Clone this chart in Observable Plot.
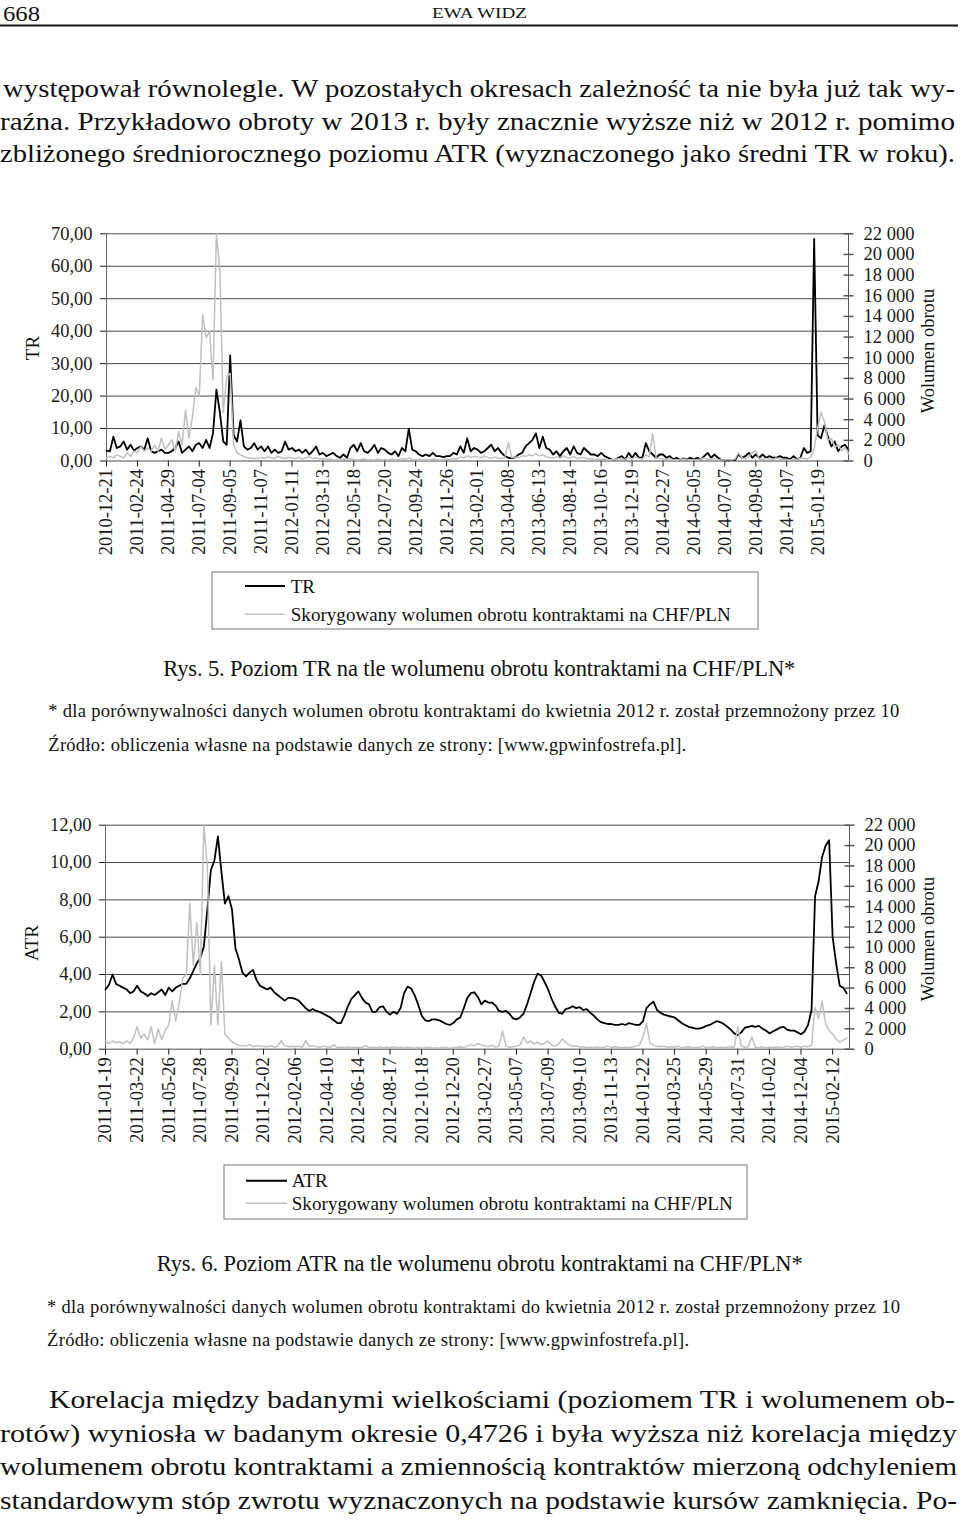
<!DOCTYPE html>
<html><head><meta charset="utf-8">
<script src="https://cdn.jsdelivr.net/npm/d3@7"></script>
<script src="https://cdn.jsdelivr.net/npm/@observablehq/plot@0.6"></script>
<style>
html,body{margin:0;padding:0;background:#fff;}
#page{position:relative;width:960px;height:1520px;overflow:hidden;background:#fff;}
#page > svg{position:absolute;left:0;}
#txt{top:0;z-index:5;pointer-events:none;}
#txt text{font-family:"Liberation Serif","Times New Roman",serif;}
</style></head><body>
<div id="page">
<svg id="txt" width="960" height="1520" fill="#111">
  <text x="3" y="20.5" font-size="22" textLength="37" lengthAdjust="spacingAndGlyphs">668</text>
  <text x="432" y="17.5" font-size="15.5" textLength="95" lengthAdjust="spacingAndGlyphs">EWA WIDZ</text>
  <line x1="0" y1="25.5" x2="958" y2="25.5" stroke="#111" stroke-width="2"/>
  <g font-size="26">
    <text x="3" y="97" textLength="952" lengthAdjust="spacingAndGlyphs">występował równolegle. W pozostałych okresach zależność ta nie była już tak wy-</text>
    <text x="0" y="130" textLength="955" lengthAdjust="spacingAndGlyphs">raźna. Przykładowo obroty w 2013 r. były znacznie wyższe niż w 2012 r. pomimo</text>
    <text x="0" y="162" textLength="955" lengthAdjust="spacingAndGlyphs">zbliżonego średniorocznego poziomu ATR (wyznaczonego jako średni TR w roku).</text>
  </g>
  <text transform="translate(32,348) rotate(-90)" text-anchor="middle" dominant-baseline="central" font-size="19">TR</text>
  <text transform="translate(928,351) rotate(-90)" text-anchor="middle" dominant-baseline="central" font-size="18.5">Wolumen obrotu</text>
  <rect x="212" y="572" width="546" height="57" fill="none" stroke="#777"/>
  <line x1="245" y1="586" x2="285" y2="586" stroke="#000" stroke-width="2"/>
  <text x="290.7" y="592.5" font-size="19">TR</text>
  <line x1="245" y1="614.3" x2="285" y2="614.3" stroke="#c0c0c0" stroke-width="1.5"/>
  <text x="290.7" y="620.7" font-size="19" textLength="440">Skorygowany wolumen obrotu kontraktami na CHF/PLN</text>
  <text x="163.3" y="675.7" font-size="22.5" textLength="632">Rys. 5. Poziom TR na tle wolumenu obrotu kontraktami na CHF/PLN*</text>
  <text x="48.3" y="716.7" font-size="18.5" textLength="851">* dla porównywalności danych wolumen obrotu kontraktami do kwietnia 2012 r. został przemnożony przez 10</text>
  <text x="48.3" y="750.7" font-size="18.5" textLength="638">Źródło: obliczenia własne na podstawie danych ze strony: [www.gpwinfostrefa.pl].</text>

  <text transform="translate(31.5,943) rotate(-90)" text-anchor="middle" dominant-baseline="central" font-size="19">ATR</text>
  <text transform="translate(928,939) rotate(-90)" text-anchor="middle" dominant-baseline="central" font-size="18.5">Wolumen obrotu</text>
  <rect x="224" y="1165" width="523" height="54" fill="none" stroke="#777"/>
  <line x1="246" y1="1180.7" x2="287" y2="1180.7" stroke="#000" stroke-width="2"/>
  <text x="291.7" y="1187" font-size="19">ATR</text>
  <line x1="246" y1="1203.3" x2="287" y2="1203.3" stroke="#c0c0c0" stroke-width="1.5"/>
  <text x="291.7" y="1210" font-size="19" textLength="441">Skorygowany wolumen obrotu kontraktami na CHF/PLN</text>
  <text x="156.7" y="1271" font-size="22.5" textLength="646">Rys. 6. Poziom ATR na tle wolumenu obrotu kontraktami na CHF/PLN*</text>
  <text x="47" y="1312.5" font-size="18.5" textLength="853">* dla porównywalności danych wolumen obrotu kontraktami do kwietnia 2012 r. został przemnożony przez 10</text>
  <text x="47" y="1346" font-size="18.5" textLength="642">Źródło: obliczenia własne na podstawie danych ze strony: [www.gpwinfostrefa.pl].</text>

  <g font-size="26">
    <text x="49" y="1408" textLength="906" lengthAdjust="spacingAndGlyphs">Korelacja między badanymi wielkościami (poziomem TR i wolumenem ob-</text>
    <text x="0" y="1441.5" textLength="957" lengthAdjust="spacingAndGlyphs">rotów) wyniosła w badanym okresie 0,4726 i była wyższa niż korelacja między</text>
    <text x="0" y="1475" textLength="957" lengthAdjust="spacingAndGlyphs">wolumenem obrotu kontraktami a zmiennością kontraktów mierzoną odchyleniem</text>
    <text x="0" y="1508.5" textLength="957" lengthAdjust="spacingAndGlyphs">standardowym stóp zwrotu wyznaczonych na podstawie kursów zamknięcia. Po-</text>
  </g>
</svg>
</div>
<script>
// sampling: one value every STEP trading days; category labels every PER trading days
const STEP = 5, PER = 45;

const labels1 = ["2010-12-21","2011-02-24","2011-04-29","2011-07-04","2011-09-05","2011-11-07","2012-01-11","2012-03-13","2012-05-18","2012-07-20","2012-09-24","2012-11-26","2013-02-01","2013-04-08","2013-06-13","2013-08-14","2013-10-16","2013-12-19","2014-02-27","2014-05-05","2014-07-07","2014-09-08","2014-11-07","2015-01-19"];
const labels2 = ["2011-01-19","2011-03-22","2011-05-26","2011-07-28","2011-09-29","2011-12-02","2012-02-06","2012-04-10","2012-06-14","2012-08-17","2012-10-18","2012-12-20","2013-02-27","2013-05-07","2013-07-09","2013-09-10","2013-11-13","2014-01-22","2014-03-25","2014-05-29","2014-07-31","2014-10-02","2014-12-04","2015-02-12"];

const trTicks = [0,10,20,30,40,50,60,70];
const atrTicks = [0,2,4,6,8,10,12];
const volTicks = [0,2000,4000,6000,8000,10000,12000,14000,16000,18000,20000,22000];

// Rys. 5 — TR
const trValues = [
 3.2,3.0,7.5,4.0,4.5,6.0,3.5,5.0,3.2,
 4.0,4.5,3.5,7.0,3.0,2.5,3.0,3.5,2.5,
 2.5,3.0,4.0,6.0,2.5,3.5,4.5,3.0,5.0,
 5.5,4.0,6.5,4.0,8.5,22.0,15.0,6.0,5.0,
 32.5,8.0,6.0,12.5,4.5,3.5,4.0,5.5,3.5,
 4.5,3.0,4.5,2.5,3.5,2.5,3.0,6.0,3.5,
 4.0,3.0,3.5,2.5,3.5,2.0,3.0,4.5,2.0,
 2.5,1.5,2.0,2.5,1.5,1.0,2.0,1.0,4.0,
 5.0,3.0,5.5,3.0,2.5,3.5,5.0,2.5,4.0,
 3.5,2.5,2.0,3.0,1.5,4.0,3.0,10.0,3.5,
 3.0,2.0,1.5,2.0,1.5,2.5,1.5,1.5,1.2,
 1.5,1.5,2.5,2.0,4.5,2.5,7.0,3.0,4.0,
 3.5,2.5,3.0,4.0,5.0,3.0,4.0,2.5,1.5,
 1.0,0.8,1.2,2.0,2.5,4.5,5.5,6.5,8.5,
 4.0,7.5,4.0,3.5,2.0,3.0,1.5,3.0,4.0,
 2.0,4.5,2.5,2.0,4.0,3.0,2.0,2.0,1.5,
 2.5,1.5,1.0,0.5,0.3,1.0,1.5,0.5,2.5,
 1.0,2.5,1.0,1.0,5.5,3.0,2.0,1.0,2.0,
 2.0,1.0,1.5,0.5,1.0,0.3,0.8,0.5,1.0,
 0.5,1.0,0.5,1.5,2.5,1.0,2.0,1.0,0.3,
 0.2,0.2,0.3,0.3,2.0,1.0,1.5,2.5,1.0,
 2.0,1.0,2.0,1.0,1.5,1.0,1.0,1.5,1.0,
 1.0,0.5,1.5,0.5,1.0,4.0,2.5,3.0,68.4,
 8.0,7.0,11.0,7.5,4.5,6.0,3.0,4.5,5.0,3.5
];
const vol1Values = [
 300,450,300,600,450,300,800,450,950,
 800,1400,950,1250,950,1550,950,2200,1100,
 1550,2050,950,2850,1550,4900,2200,4250,7100,
 6300,14150,11950,12550,7850,22000,18400,4700,8150,
 8500,1550,800,600,450,300,300,250,250,
 350,250,400,300,250,450,300,250,350,
 300,250,350,200,300,400,250,300,200,
 250,150,200,100,150,100,200,150,250,
 150,100,150,200,100,150,100,200,100,
 150,100,200,100,150,250,150,300,150,
 100,150,100,150,100,200,150,100,150,
 200,150,250,200,400,300,500,350,450,
 400,300,500,350,250,400,300,250,350,
 1800,300,400,300,500,450,600,500,700,
 500,600,400,350,300,400,250,500,350,
 300,450,250,300,350,200,250,150,200,
 150,200,100,150,100,250,150,200,300,
 200,400,250,200,600,400,2650,300,250,
 200,150,250,100,150,100,200,150,100,
 150,100,200,300,150,200,250,150,100,
 100,150,100,200,800,300,200,450,800,
 1000,200,150,250,200,150,300,200,150,
 150,100,200,150,300,250,200,350,1200,
 3150,4700,3800,2000,2200,1300,1600,950,1300,700
];

// Rys. 6 — ATR
const atrValues = [
 3.2,3.45,4.0,3.5,3.4,3.3,3.2,3.0,3.1,
 3.4,3.1,3.0,2.85,3.0,2.9,3.05,3.2,2.9,
 3.3,3.1,3.3,3.4,3.5,3.5,3.8,4.2,4.6,
 4.9,5.5,7.5,9.6,10.1,11.4,9.5,7.8,8.2,
 7.5,5.4,4.8,4.1,3.9,4.1,4.25,3.7,3.4,
 3.3,3.2,3.3,3.05,2.9,2.75,2.6,2.75,2.75,
 2.7,2.6,2.4,2.2,2.05,2.15,2.05,2.0,1.9,
 1.8,1.7,1.55,1.4,1.4,1.8,2.3,2.7,2.9,
 3.1,2.75,2.5,2.4,2.0,2.0,2.25,2.3,2.0,
 1.85,2.0,1.9,2.2,3.0,3.35,3.25,2.9,2.4,
 1.8,1.55,1.5,1.6,1.6,1.55,1.45,1.35,1.3,
 1.4,1.6,1.7,2.2,2.75,3.0,3.05,2.8,2.4,
 2.6,2.5,2.5,2.35,2.05,2.0,2.05,1.9,1.65,
 1.6,1.7,1.9,2.4,3.0,3.6,4.05,3.95,3.6,
 3.2,2.7,2.3,1.95,1.9,2.15,2.2,2.3,2.2,
 2.25,2.1,2.15,1.95,1.8,1.6,1.45,1.4,1.35,
 1.35,1.3,1.3,1.35,1.3,1.4,1.35,1.3,1.3,
 1.5,2.2,2.4,2.55,2.1,1.95,1.85,1.8,1.75,
 1.7,1.55,1.4,1.3,1.2,1.15,1.1,1.1,1.15,
 1.25,1.3,1.4,1.5,1.45,1.35,1.2,1.05,0.85,
 0.75,0.9,1.15,1.2,1.25,1.2,1.25,1.1,1.0,
 0.85,0.95,1.05,1.15,1.2,1.05,1.0,1.0,0.9,
 0.8,0.95,1.3,2.1,8.2,9.0,10.3,10.9,11.2,
 6.0,4.6,3.4,3.3,3.0
];
const vol2Values = [
 730,550,820,640,730,550,820,550,1100,
 2200,1100,1470,920,2200,550,2000,920,1830,
 2380,4770,2750,4580,6970,7330,14300,8250,12460,
 7330,22000,17960,2380,8250,2380,8600,1470,1100,
 730,550,400,350,300,450,250,350,300,
 300,250,350,200,300,830,350,250,300,
 250,300,200,830,300,350,250,200,300,
 250,200,450,150,200,150,250,200,150,
 200,150,350,150,200,150,250,150,200,
 150,250,150,200,100,200,150,100,200,
 100,150,200,100,150,100,200,150,100,
 150,200,250,150,300,450,350,550,400,
 350,250,400,200,300,1800,300,200,250,
 300,400,1200,600,800,500,700,450,600,
 800,400,300,500,1000,700,400,300,350,
 200,250,150,200,150,250,150,200,300,
 150,250,200,150,200,150,250,300,400,
 1200,2500,600,400,300,250,300,200,250,
 200,300,150,200,250,150,200,150,300,
 150,200,250,150,200,150,200,250,150,
 2200,300,200,250,1200,200,150,250,150,
 200,150,250,200,150,300,200,250,300,
 200,300,250,400,4100,3000,4700,2500,1800,
 1500,1000,700,900,1100
];

const rows = vals => vals.map((v, i) => ({x: i * STEP, y: v}));
const fmtLeft = v => v.toFixed(2).replace(".", ",");
const fmtVol = v => v === 0 ? "0" : `${v / 1000}\u00a0000`;
const hTick = {draw(ctx) { ctx.moveTo(-5, 0); ctx.lineTo(5, 0); }};
const FONT = {background: "transparent", fontFamily: "Liberation Serif, Times New Roman, serif", fontSize: "18.5px", color: "#1a1a1a", overflow: "visible"};

function dualChart({top, height, mT, mB, mL, mR, xMax, yMax, yTicks, labels, main, vol}) {
  const dims = {width: 960, height, marginTop: mT, marginBottom: mB, marginLeft: mL, marginRight: mR};
  const base = Plot.plot({
    ...dims,
    style: FONT,
    x: {domain: [0, xMax], ticks: labels.map((d, i) => i * PER), tickFormat: v => labels[Math.round(v / PER)],
        tickRotate: -90, tickSize: 6, tickPadding: 2, label: null},
    y: {domain: [0, yMax], ticks: yTicks, tickFormat: fmtLeft, tickSize: 6, tickPadding: 8, label: null},
    marks: [
      Plot.ruleY(yTicks, {stroke: "#4a4a4a", strokeWidth: 1}),
      Plot.ruleX([0], {stroke: "#6a6a6a"}),
      Plot.line(rows(main), {x: "x", y: "y", stroke: "#000", strokeWidth: 1.8})
    ]
  });
  const over = Plot.plot({
    ...dims,
    style: FONT,
    x: {domain: [0, xMax], axis: null},
    y: {domain: [0, 22000], axis: "right", ticks: volTicks, tickFormat: fmtVol, tickSize: 0, tickPadding: 15, label: null},
    marks: [
      Plot.ruleX([xMax], {stroke: "#555"}),
      Plot.dot(volTicks, {x: () => xMax, y: d => d, symbol: hTick, stroke: "#555", fill: "none"}),
      Plot.line(rows(vol), {x: "x", y: "y", stroke: "#c0c0c0", strokeWidth: 1.5})
    ]
  });
  for (const s of [base, over]) {
    s.style.position = "absolute";
    s.style.left = "0px";
    s.style.top = top + "px";
    document.getElementById("page").appendChild(s);
  }
}

dualChart({top: 220, height: 345, mT: 13.3, mB: 104.5, mL: 106, mR: 112, xMax: 1080,
  yMax: 70, yTicks: trTicks, labels: labels1, main: trValues, vol: vol1Values});
dualChart({top: 810, height: 345, mT: 14.7, mB: 106.3, mL: 105, mR: 111, xMax: 1059,
  yMax: 12, yTicks: atrTicks, labels: labels2, main: atrValues, vol: vol2Values});
</script>
</body></html>
